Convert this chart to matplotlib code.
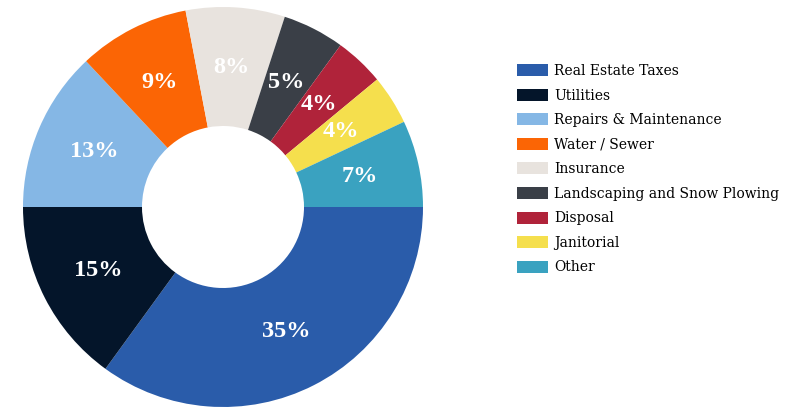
import matplotlib.pyplot as plt
from matplotlib.patches import Patch

# Operating expense breakdown (percent of total)
categories = ["Real Estate Taxes", "Utilities", "Repairs & Maintenance", "Water / Sewer",
              "Insurance", "Landscaping and Snow Plowing", "Disposal", "Janitorial", "Other"]
shares = [35, 15, 13, 9, 8, 5, 4, 4, 7]
colors = ["#2a5caa", "#04152a", "#85b7e5", "#fb6505", "#e8e3de",
          "#3a3f47", "#b0233a", "#f5df4d", "#3aa2c0"]

fig = plt.figure(figsize=(7.96, 4.15), dpi=100)
fig.patch.set_facecolor("white")

# donut sits on the left, 400px square
ax = fig.add_axes([23 / 796, 8 / 415, 400 / 796, 400 / 415])
wedges, texts, autotexts = ax.pie(
    shares, colors=colors, startangle=0, counterclock=False, radius=1.0,
    autopct="%.0f%%", pctdistance=0.70,
    wedgeprops=dict(width=0.595, linewidth=0),
    textprops=dict(color="white", fontsize=17.5, fontweight="bold", family="Liberation Serif"),
)
ax.set_xlim(-1, 1)
ax.set_ylim(-1, 1)
ax.set_aspect("equal")
ax.axis("off")

handles = [Patch(facecolor=c, edgecolor="none") for c in colors]
fs = 10
fig.legend(handles, categories, loc="upper left",
           bbox_to_anchor=(517 / 796, 1 - 64 / 415), frameon=False,
           prop=dict(family="DejaVu Serif", size=fs),
           handlelength=2.2, handleheight=0.95, handletextpad=0.5,
           labelspacing=0.76, borderpad=0, borderaxespad=0)

plt.savefig("out.png", dpi=100)
